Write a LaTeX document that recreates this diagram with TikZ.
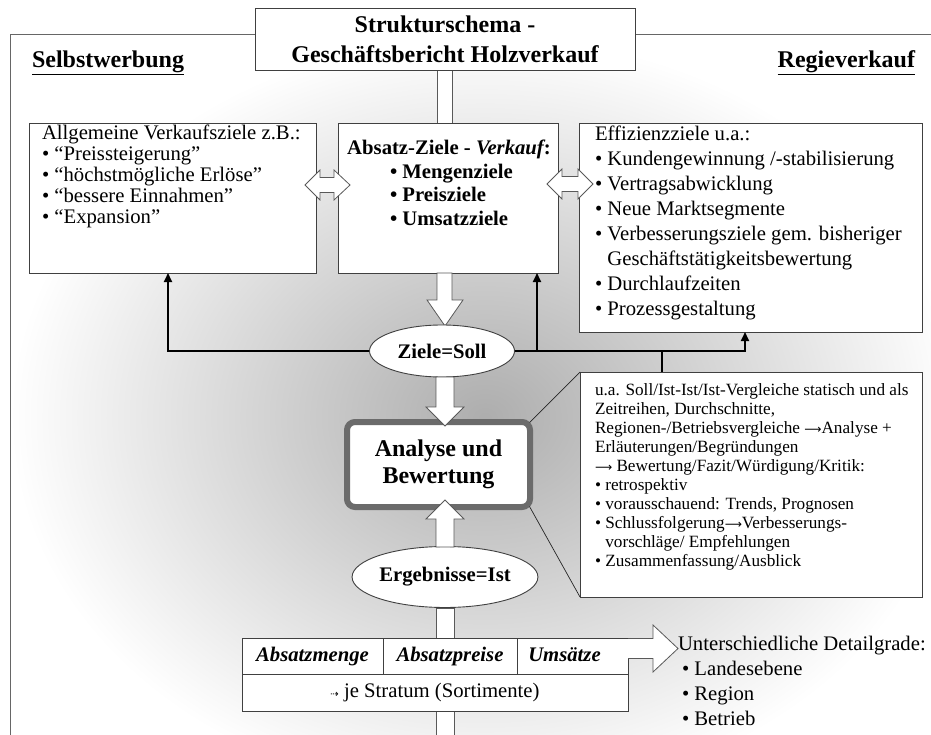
\documentclass[tikz,border=0pt]{standalone}
\usepackage{fontspec}
\setmainfont{Liberation Serif}
\newfontfamily\dejavu{DejaVu Sans}
\newcommand{\ra}{{\dejavu\fontsize{12}{12}\selectfont ⟶}}
\usetikzlibrary{arrows.meta,shapes.geometric,calc}
\begin{document}
\begin{tikzpicture}[x=1pt,y=-1pt,
  box/.style={draw=black!75, fill=white, line width=0.9pt, inner sep=0pt, outer sep=0pt},
  barrow/.style={draw=black!65, fill=white, line width=0.8pt, line join=miter},
  conn/.style={line width=1.8pt, draw=black},
  connarr/.style={conn, -{Triangle[length=9pt,width=8pt]}},
  thinline/.style={line width=0.7pt, draw=black!85},
  txt/.style={inner sep=0pt, outer sep=0pt, align=left},
  fn/.style={font=\fontsize{20.7}{#1}\selectfont},
  fb/.style={font=\bfseries\fontsize{20.7}{#1}\selectfont},
  cell/.style={box, minimum height=36, text height=14, text depth=4, font=\bfseries\itshape\fontsize{20.7}{21}\selectfont},
  ell/.style={ellipse, draw=black!75, fill=white, line width=0.9pt, inner sep=0pt, font=\bfseries\fontsize{20.7}{21}\selectfont},
]
\useasboundingbox (0,0) rectangle (931,735);
\fill[white] (0,0) rectangle (931,735);
\shade[inner color=black!32, outer color=white] (10,35) rectangle (960,800);
\draw[black!60, line width=1pt] (10,760) -- (10,35) -- (960,35);

% title
\draw[barrow] (437,60) rectangle (452,123);
\node[box, anchor=north west, minimum width=380, minimum height=62, align=center,
      font=\bfseries\fontsize{24}{30}\selectfont] (title) at (255,8)
      {Strukturschema -\\Geschäftsbericht Holzverkauf};

\node[txt, anchor=base west, font=\bfseries\fontsize{24}{24}\selectfont] (sw) at (32,68) {\underline{Selbstwerbung}};
\node[txt, anchor=base east, font=\bfseries\fontsize{24}{24}\selectfont] (rv) at (915,68) {\underline{Regieverkauf}};

% top boxes
\node[box, anchor=north west, minimum width=287, minimum height=150] (lb) at (29,123) {};
\node[box, anchor=north west, minimum width=220, minimum height=150] (mb) at (338,123) {};
\node[box, anchor=north west, minimum width=343, minimum height=209] (rb) at (579,123) {};

\node[txt, fn=21, anchor=north west] (lbt) at (42,125)
  {Allgemeine Verkaufsziele z.B.:\\• “Preissteigerung”\\• “höchstmögliche Erlöse”\\• “bessere Einnahmen”\\• “Expansion”};
\node[txt, fb=21, anchor=base] (mbh) at (449,155) {Absatz-Ziele - {\itshape Verkauf}:};
\node[txt, fb=23.5, anchor=north west] (mbt) at (390,164) {• Mengenziele\\• Preisziele\\• Umsatzziele};
\node[txt, fn=25, anchor=north west] (rbt) at (595,126)
  {Effizienzziele u.a.:\\• Kundengewinnung /-stabilisierung\\• Vertragsabwicklung\\• Neue Marktsegmente\\• Verbesserungsziele gem. bisheriger\\\phantom{• }Geschäftstätigkeitsbewertung\\• Durchlaufzeiten\\• Prozessgestaltung};

% double arrows
\draw[barrow] (305,185) -- (320,170) -- (320,177.5) -- (334,177.5) -- (334,170) -- (350,185)
  -- (334,200) -- (334,192.5) -- (320,192.5) -- (320,200) -- cycle;
\draw[barrow] (547,184) -- (562,169) -- (562,176.5) -- (578,176.5) -- (578,169) -- (593,184)
  -- (578,199) -- (578,191.5) -- (562,191.5) -- (562,199) -- cycle;

% down arrow to Ziele=Soll
\draw[barrow] (437,273) -- (437,300) -- (427,300) -- (445,326) -- (463,300) -- (452,300) -- (452,273) -- cycle;

\node[ell, minimum width=145, minimum height=52] (zs) at (442,351) {Ziele=Soll};

% notes box
\node[box, anchor=north west, minimum width=342, minimum height=225] (nb) at (580,372) {};
\node[txt, anchor=north west, font=\fontsize{17.2}{19}\selectfont] (nbt) at (595,384)
  {u.a. Soll/Ist-Ist/Ist-Vergleiche statisch und als\\Zeitreihen, Durchschnitte,\\Regionen-/Betriebsvergleiche \ra Analyse +\\Erläuterungen/Begründungen\\\ra\ Bewertung/Fazit/Würdigung/Kritik:\\• retrospektiv\\• vorausschauend: Trends, Prognosen\\• Schlussfolgerung\ra Verbesserungs-\\\phantom{• }vorschläge/ Empfehlungen\\• Zusammenfassung/Ausblick};

% connectors
\coordinate (mbin) at ([xshift=-21]mb.south east);
\coordinate (nbin) at ([xshift=82]nb.north west);
\draw[connarr] (zs.west) -| ([xshift=-4.5]lb.south);
\draw[connarr] (zs.east) -| ([xshift=-5.5]rb.south);
\draw[connarr] (mbin |- zs.east) -- (mbin);
\draw[conn] (nbin |- zs.east) -- (nbin);

% analyse box
\node[draw=black!58, line width=6pt, rounded corners=8pt, fill=white, minimum width=183, minimum height=85,
      align=center, font=\bfseries\fontsize{24}{27}\selectfont] (ab) at (438.5,464.5) {Analyse und\\Bewertung};
\draw[thinline] ([shift={(-3.5,3.5)}]ab.north east) -- (nb.north west);
\draw[thinline] ([shift={(-3.5,-3.5)}]ab.south east) -- (nb.south west);

\draw[barrow] (436,377) -- (436,407) -- (426,407) -- (445,426) -- (464,407) -- (454,407) -- (454,377) -- cycle;

\node[ell, minimum width=175, minimum height=61] (es) at (445,577) {Ergebnisse=Ist};
\draw[barrow] (436,547) -- (436,519) -- (426,519) -- (445,500) -- (464,519) -- (454,519) -- (454,547) -- cycle;
\draw[barrow] (436,608) rectangle (454,638);
\draw[barrow] (436,711) rectangle (454,745);

% table
\node[cell, anchor=north west, minimum width=141] (c1) at (242,638) {Absatzmenge};
\node[cell, anchor=north west, minimum width=134] (c2) at (383,638) {Absatzpreise};
\node[cell, anchor=north west, minimum width=111] (c3) at (517,638) {\hspace*{-16pt}Umsätze};
\node[box, anchor=north west, minimum width=386, minimum height=37, font=\fontsize{20.7}{21}\selectfont] (c4) at (242,674)
  {{\dejavu\fontsize{10}{10}\selectfont ⇢}\ je Stratum (Sortimente)};

% right arrow
\draw[barrow] (628,638.5) -- (653,638.5) -- (653,625) -- (678,648.5) -- (653,672) -- (653,658.5) -- (628,658.5);
\node[txt, fn=25, anchor=north west] (dg) at (678,636)
  {Unterschiedliche Detailgrade:\\\hspace*{4pt}• Landesebene\\\hspace*{4pt}• Region\\\hspace*{4pt}• Betrieb};
\end{tikzpicture}
\end{document}
